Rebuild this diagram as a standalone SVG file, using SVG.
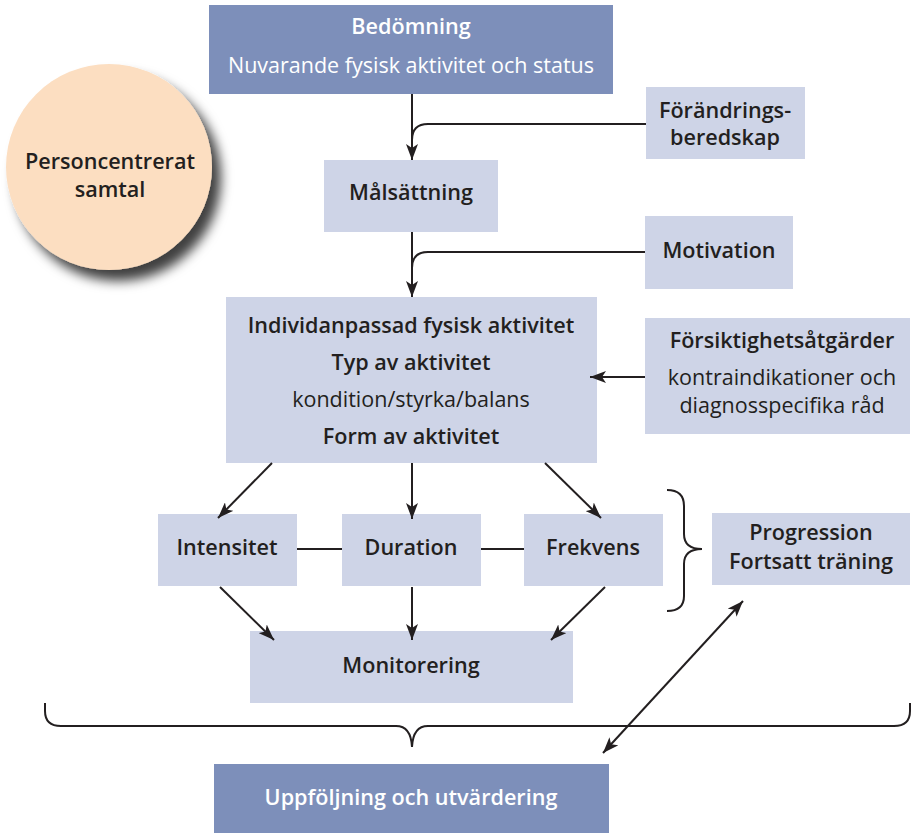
<svg xmlns="http://www.w3.org/2000/svg" width="911" height="833" viewBox="0 0 911 833">
<style>
.dark{fill:#7d8fba}
.light{fill:#ced4e7}
text{font-family:"Open Sans","Noto Sans","Liberation Sans",sans-serif;font-size:21.5px;text-anchor:middle;fill:#231f20}
.b{font-weight:600;font-size:21.6px}
.w{fill:#ffffff}
.ln{stroke:#231f20;stroke-width:2;fill:none}
</style>
<defs>
<marker id="ah" viewBox="0 0 16 12" refX="16" refY="6" markerWidth="16" markerHeight="12" markerUnits="userSpaceOnUse" orient="auto-start-reverse">
<path d="M0,0 L16,6 L0,12 L4,6 Z" fill="#231f20"/>
</marker>
<filter id="sh" x="-30%" y="-30%" width="170%" height="170%">
<feDropShadow dx="9" dy="11" stdDeviation="6" flood-color="#000" flood-opacity="0.75"/>
</filter>
</defs>
<rect width="911" height="833" fill="#ffffff"/>

<g id="personcentrerat">
<circle cx="109" cy="167" r="103" fill="#fcdec1" filter="url(#sh)"/>
<text x="110" y="169" class="b">Personcentrerat</text>
<text x="110" y="197" class="b">samtal</text>
</g>

<g id="bedomning">
<rect x="209" y="5" width="404" height="89" class="dark"/>
<text x="411" y="34" class="b w">Bedömning</text>
<text x="411" y="73" class="w">Nuvarande fysisk aktivitet och status</text>
</g>

<g id="forandring">
<rect x="646" y="87" width="159" height="72" class="light"/>
<text x="725" y="118" class="b">Förändrings-</text>
<text x="725" y="145" class="b">beredskap</text>
</g>

<g id="malsattning">
<rect x="324" y="160" width="174" height="72" class="light"/>
<text x="411" y="200" class="b">Målsättning</text>
</g>

<g id="motivation">
<rect x="645" y="216" width="148" height="73" class="light"/>
<text x="719" y="258" class="b">Motivation</text>
</g>

<g id="individ">
<rect x="226" y="297" width="371" height="166" class="light"/>
<text x="411" y="333" class="b">Individanpassad fysisk aktivitet</text>
<text x="411" y="370" class="b">Typ av aktivitet</text>
<text x="411" y="407">kondition/styrka/balans</text>
<text x="411" y="444" class="b">Form av aktivitet</text>
</g>

<g id="forsiktighet">
<rect x="645" y="318" width="265" height="116" class="light"/>
<text x="782" y="348" class="b">Försiktighetsåtgärder</text>
<text x="782" y="385">kontraindikationer och</text>
<text x="782" y="413">diagnosspecifika råd</text>
</g>

<g id="intensitet">
<rect x="158" y="514" width="139" height="72" class="light"/>
<text x="227" y="555" class="b">Intensitet</text>
</g>

<g id="duration">
<rect x="342" y="514" width="139" height="72" class="light"/>
<text x="411" y="555" class="b">Duration</text>
</g>

<g id="frekvens">
<rect x="524" y="514" width="139" height="72" class="light"/>
<text x="593" y="555" class="b">Frekvens</text>
</g>

<g id="progression">
<rect x="712" y="513" width="198" height="72" class="light"/>
<text x="811" y="540" class="b">Progression</text>
<text x="811" y="569" class="b">Fortsatt träning</text>
</g>

<g id="monitorering">
<rect x="250" y="631" width="323" height="72" class="light"/>
<text x="411" y="673" class="b">Monitorering</text>
</g>

<g id="uppfoljning">
<rect x="214" y="764" width="395" height="69" class="dark"/>
<text x="411" y="805" class="b w">Uppföljning och utvärdering</text>
</g>

<g id="connectors">
<path class="ln" d="M412,94 V160" marker-end="url(#ah)"/>
<path class="ln" d="M646,124 H428 Q412,124 412,140"/>
<path class="ln" d="M412,232 V297" marker-end="url(#ah)"/>
<path class="ln" d="M645,252 H428 Q412,252 412,268"/>
<path class="ln" d="M645,377 H590" marker-end="url(#ah)"/>
<path class="ln" d="M272,463 L218,518" marker-end="url(#ah)"/>
<path class="ln" d="M412,463 V519" marker-end="url(#ah)"/>
<path class="ln" d="M545,463 L601,518" marker-end="url(#ah)"/>
<path class="ln" d="M297,549 H342"/>
<path class="ln" d="M481,549 H524"/>
<path class="ln" d="M220,587 L274,640" marker-end="url(#ah)"/>
<path class="ln" d="M412,587 V640" marker-end="url(#ah)"/>
<path class="ln" d="M605,587 L551,640" marker-end="url(#ah)"/>
<path class="ln" d="M667,490 Q684,490 684,506 V534 Q684,549 702,549 Q684,549 684,564 V596 Q684,611 667,611"/>
<path class="ln" d="M45,703 V711 Q45,726 61,726 H396 Q411,726 412,747 Q413,726 428,726 H894 Q910,726 910,711 V703"/>
<path class="ln" d="M603,753 L743,601" marker-start="url(#ah)" marker-end="url(#ah)"/>
</g>
</svg>
